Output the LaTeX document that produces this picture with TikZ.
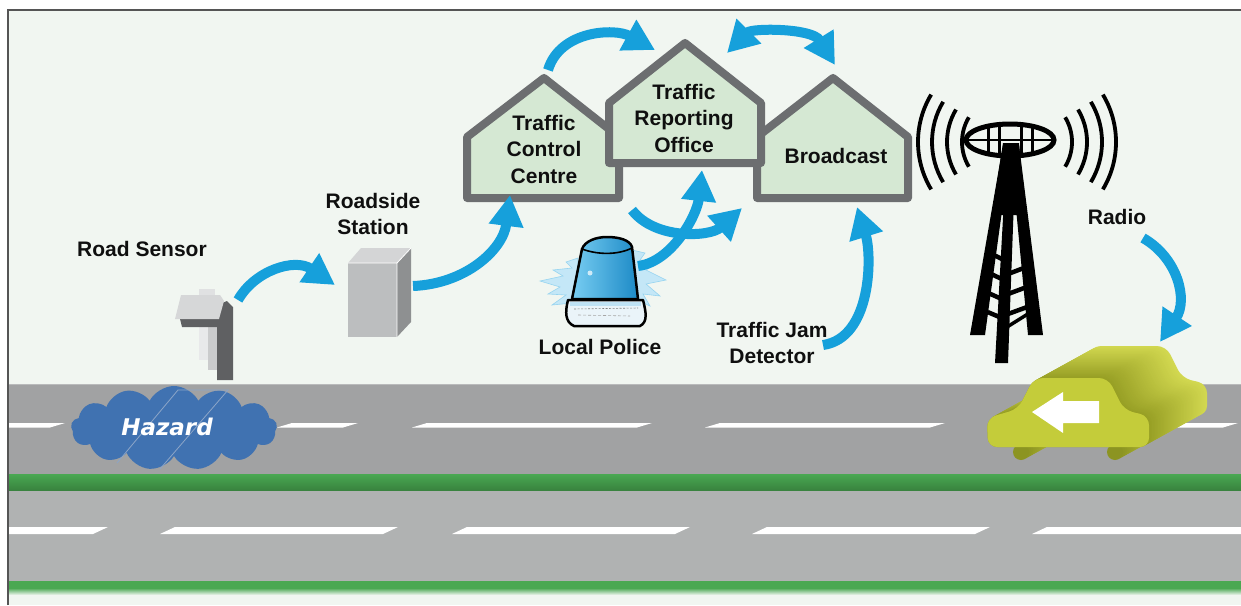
\documentclass[tikz,border=0pt]{standalone}
\usepackage{fontspec}
\setmainfont{Liberation Sans}
\newfontfamily\hazfont[BoldItalicFont={* Bold Oblique}]{DejaVu Sans}
\usetikzlibrary{arrows.meta,shapes.symbols}

\definecolor{bgpale}{RGB}{241,246,241}
\definecolor{framegray}{RGB}{85,85,85}
\definecolor{roadtop}{RGB}{161,162,163}
\definecolor{roadedge}{RGB}{185,186,187}
\definecolor{roadlow}{RGB}{176,178,178}
\definecolor{verge}{RGB}{74,168,82}
\definecolor{vergedark}{RGB}{56,130,62}
\definecolor{flowblue}{RGB}{22,160,219}
\definecolor{housefill}{RGB}{213,232,211}
\definecolor{houseline}{RGB}{108,110,112}
\definecolor{hazardblue}{RGB}{64,114,177}
\definecolor{hazardline}{RGB}{140,165,200}
\definecolor{labelblack}{RGB}{15,15,15}
\definecolor{sensortab}{RGB}{224,225,226}
\definecolor{postpale}{RGB}{232,233,234}
\definecolor{postmid}{RGB}{202,203,204}
\definecolor{postdark}{RGB}{95,96,98}
\definecolor{capgray}{RGB}{214,215,216}
\definecolor{boxfront}{RGB}{188,190,191}
\definecolor{boxtop}{RGB}{212,213,214}
\definecolor{boxside}{RGB}{142,144,145}
\definecolor{glowblue}{RGB}{196,231,247}
\definecolor{glowline}{RGB}{150,212,240}
\definecolor{domelight}{RGB}{120,205,242}
\definecolor{domemid}{RGB}{58,174,228}
\definecolor{domedark}{RGB}{28,138,198}
\definecolor{basepale}{RGB}{234,244,249}
\definecolor{baseband}{RGB}{190,226,244}
\definecolor{carfar}{RGB}{210,216,80}
\definecolor{carnear}{RGB}{150,158,36}
\definecolor{carfront}{RGB}{196,204,58}
\definecolor{wheelfar}{RGB}{175,182,50}
\definecolor{wheelnear}{RGB}{140,148,34}

% one white lane marking: bottom-left x, bottom-right x, top y, bottom y
\newcommand{\lanedash}[4]{\fill[lanemark] (#1,#4) -- (#2,#4) -- (#2+15,#3) -- (#1+15,#3) -- cycle;}
% side outline of the car, used for the body and its extrusion
\newcommand{\carbody}{(988,447) -- (987,418) -- (1018,409) -- (1034,378) -- (1108,378) -- (1124,410) -- (1149,416) -- (1149,447) -- cycle}

\begin{document}
\begin{tikzpicture}[x=1pt,y=-1pt,
  flow/.style={draw=flowblue, line width=10pt, -{Triangle[length=31pt,width=33pt]}},
  flowboth/.style={draw=flowblue, line width=10pt, {Triangle[length=31pt,width=33pt]}-{Triangle[length=31pt,width=33pt]}},
  lbl/.style={font=\fontsize{21}{26.5}\selectfont\bfseries, align=center, inner sep=0pt, text=labelblack},
  house/.style={draw=houseline, fill=housefill, line width=8pt, line join=round},
  lanemark/.style={fill=white},
  wave/.style={draw=black, line width=3.8pt},
  rung/.style={draw=black, line width=4.5pt},
]
\useasboundingbox (0,0) rectangle (1241,605);

% page and frame
\fill[white] (0,0) rectangle (1241,605);
\fill[bgpale] (8,10) rectangle (1241,605);

% the road with its two carriageways
\begin{scope}
\clip (8,10) rectangle (1241,605);
\fill[roadtop] (8,384) rectangle (1241,474);
\draw[roadedge, line width=1.2pt] (8,384.6) -- (1241,384.6);
\shade[top color=verge, bottom color=vergedark] (8,474) rectangle (1241,490.5);
\fill[roadlow] (8,490.5) rectangle (1241,581);
\fill[verge] (8,581) rectangle (1241,588);
\shade[top color=verge, bottom color=bgpale] (8,588) rectangle (1241,595);
\lanedash{-20}{50}{423}{427.5}
\lanedash{277}{343}{423}{427.5}
\lanedash{412}{637}{423}{427.5}
\lanedash{705}{930}{423}{427.5}
\lanedash{990}{1223}{423}{427.5}
\lanedash{-20}{93}{527}{534}
\lanedash{160}{383}{527}{534}
\lanedash{452}{675}{527}{534}
\lanedash{752}{975}{527}{534}
\lanedash{1032}{1270}{527}{534}
\end{scope}
\draw[framegray, line width=1.4pt] (8,605) -- (8,10) -- (1241,10);

% hazard on the road
\node[cloud, cloud puffs=13, cloud puff arc=125, minimum width=206pt, minimum height=84pt,
      fill=hazardblue, inner sep=0pt] (hazard) at (174,428) {};
\draw[hazardline, line width=0.8pt] (117,463) -- (178,390) -- (228,390) -- (160,469);
\node[font=\hazfont\bfseries\itshape\fontsize{23}{27}\selectfont, text=white, anchor=base, inner sep=0pt]
  (hazardtxt) at (167,435) {Hazard};

% road sensor
\fill[sensortab] (199,289) rectangle (215,296);
\fill[postpale] (199,325) rectangle (209,360);
\fill[postmid] (208,325) rectangle (223,370);
\fill[postdark] (217,305) -- (227,301) -- (233,307) -- (233,380) -- (217,380) -- cycle;
\fill[postdark] (180,319) -- (227,319) -- (224,327) -- (182,327) -- cycle;
\fill[capgray] (181,295) -- (220,295) -- (224,301) -- (219,319) -- (175,319) -- cycle;
\node[inner sep=0pt] (sensor) at (205,335) {};

% roadside station
\fill[boxfront] (348,263) rectangle (397,337);
\fill[boxtop] (348,263) -- (361,248) -- (411,248) -- (397,263) -- cycle;
\fill[boxside] (397,263) -- (411,248) -- (411,322) -- (397,337) -- cycle;
\draw[white, line width=0.8pt] (348,263) -- (397,263) -- (397,337) (397,263) -- (411,248);
\node[inner sep=0pt] (station) at (380,292) {};

% offices
\draw[house] (467,198) -- (467,137) -- (544,78) -- (619,137) -- (619,198) -- cycle;
\draw[house] (757,198) -- (757,137) -- (833,78) -- (908,137) -- (908,198) -- cycle;
\draw[house] (609,163) -- (609,103) -- (685,43) -- (761,103) -- (761,163) -- cycle;
\node[lbl] (tcc) at (544,149) {Traffic\\Control\\Centre};
\node[lbl] (tro) at (684,118) {Traffic\\Reporting\\Office};
\node[lbl, anchor=base] (bc) at (836,163) {Broadcast};

% police beacon
\fill[glowblue, draw=glowline, line width=0.6pt]
  (578,258) -- (566,262) -- (572,268) -- (553,270) -- (563,276) -- (540,281) -- (560,287)
  -- (548,294) -- (566,295) -- (552,305) -- (572,303) -- (578,300) -- cycle;
\fill[glowblue, draw=glowline, line width=0.6pt]
  (632,250) -- (645,253) -- (640,260) -- (660,262) -- (646,270) -- (666,280) -- (646,284)
  -- (660,296) -- (643,294) -- (650,306) -- (637,300) -- cycle;
\filldraw[fill=basepale, draw=black, line width=2.5pt, line join=round]
  (568,300) -- (643,300) .. controls (646,312) and (648,322) .. (640,326)
  -- (574,326) .. controls (565,322) and (565,312) .. (568,300) -- cycle;
\fill[baseband] (570,302) rectangle (641,306);
\draw[gray, line width=0.6pt, dash pattern=on 2pt off 1.5pt] (574,309) -- (638,308);
\draw[gray!70, line width=0.6pt, dash pattern=on 3pt off 2pt] (578,315) -- (630,316);
\shadedraw[left color=domelight, middle color=domemid, right color=domedark, draw=black,
  line width=2.5pt, line join=round]
  (582,249) .. controls (585,241) and (596,237) .. (607,237)
  .. controls (619,237) and (630,240) .. (632,247) -- (638,299) -- (572,299) -- cycle;
\draw[black, line width=1.6pt] (582,249) .. controls (598,255) and (618,255) .. (632,248);
\fill[white, opacity=0.7] (590,273) circle[radius=2.5];
\node[inner sep=0pt] (police) at (605,280) {};
\node[lbl, anchor=base] (policelbl) at (600,354) {Local Police};

% radio tower: dish, three legs meeting at the top, ladder rungs
\draw[black, line width=5pt] (1010,140) ellipse[x radius=44, y radius=16];
\begin{scope}
\clip (1010,140) ellipse[x radius=44, y radius=16];
\foreach \gx in {988,999,1021,1032} {\draw[black, line width=3pt] (\gx,120) -- (\gx,160);}
\draw[black, line width=1.5pt] (960,140) -- (1060,140);
\end{scope}
\fill[black] (1003,143) -- (1019,143) -- (1025,215) -- (992,215) -- cycle;
\fill[black] (1003,145) -- (1011,145) -- (985,335) -- (970,335) -- cycle;
\fill[black] (1010,145) -- (1019,145) -- (1043,335) -- (1028,335) -- cycle;
\fill[black] (1007,145) -- (1016,145) -- (1008,363) -- (995,363) -- cycle;
\foreach \ry in {253,273,293,312} {\draw[rung] (990-\ry/30+8,\ry) -- (1004,\ry+7);}
\foreach \ry in {267,287,307} {\draw[rung] (1026+\ry/60-4,\ry) -- (1008,\ry+7);}
\draw[rung, line width=3.5pt] (1007,327) -- (1031,312);
\foreach \r in {48,63,78,92} {
  \draw[wave] (1010,142) ++(149:\r) arc[start angle=149, end angle=211, radius=\r];
  \draw[wave] (1024,142) ++(-31:\r) arc[start angle=-31, end angle=31, radius=\r];
}
\node[inner sep=0pt] (tower) at (1008,250) {};
\node[lbl, anchor=base] (radiolbl) at (1117,224) {Radio};

% car: wheels, extruded body, front face
\foreach \k in {0,...,14} {
  \pgfmathsetmacro\f{1-\k/14}
  \pgfmathtruncatemacro\m{100*\k/14}
  \fill[wheelnear!\m!wheelfar, shift={(29*\f,-16*\f)}] (1021,452) circle[radius=8];
  \fill[wheelnear!\m!wheelfar, shift={(29*\f,-16*\f)}] (1115,452) circle[radius=8];
}
\foreach \k in {0,...,40} {
  \pgfmathsetmacro\f{1-\k/40}
  \pgfmathtruncatemacro\m{100*\k/40}
  \fill[carnear!\m!carfar, shift={(58*\f,-32*\f)}, rounded corners=9pt] \carbody;
}
\fill[carfront, rounded corners=9pt] \carbody;
\fill[white] (1032,412) -- (1063,392) -- (1063,401) -- (1099,401) -- (1099,423)
  -- (1063,423) -- (1063,433) -- cycle;
\node[inner sep=0pt] (car) at (1068,420) {};

% remaining labels
\node[lbl, anchor=base] (sensorlbl) at (142,256) {Road Sensor};
\node[lbl] (stationlbl) at (373,214) {Roadside\\Station};
\node[lbl] (jam) at (772,343) {Traffic Jam\\Detector};

% connector end points
\coordinate (sensor-tx) at (238,300);
\coordinate (station-rx) at (335,285);
\coordinate (station-tx) at (413,286);
\coordinate (tcc-rx) at (510,195);
\coordinate (tcc-tx) at (548,70);
\coordinate (tro-rx-top) at (655,50);
\coordinate (tro-link) at (727,53);
\coordinate (bc-link) at (835,65);
\coordinate (police-tx) at (638,266);
\coordinate (tro-rx-low) at (702,170);
\coordinate (tcc-tx-low) at (632,210);
\coordinate (bc-rx-side) at (742,208);
\coordinate (jam-tx) at (823,345);
\coordinate (bc-rx) at (857,207);
\coordinate (radio-tx) at (1143,238);
\coordinate (car-rx) at (1160,342);

% information flow
\draw[flow] (sensor-tx) .. controls (255,270) and (295,258) .. (station-rx);
\draw[flow] (station-tx) .. controls (465,284) and (503,250) .. (tcc-rx);
\draw[flow] (tcc-tx) .. controls (560,30) and (615,28) .. (tro-rx-top);
\draw[flowboth] (tro-link) .. controls (752,28) and (812,28) .. (bc-link);
\draw[flow] (tcc-tx-low) .. controls (655,240) and (710,237) .. (bc-rx-side);
\draw[flow] (police-tx) .. controls (672,262) and (697,215) .. (tro-rx-low);
\draw[flow] (jam-tx) .. controls (872,338) and (872,255) .. (bc-rx);
\draw[flow] (radio-tx) .. controls (1178,258) and (1188,300) .. (car-rx);
\end{tikzpicture}
\end{document}
